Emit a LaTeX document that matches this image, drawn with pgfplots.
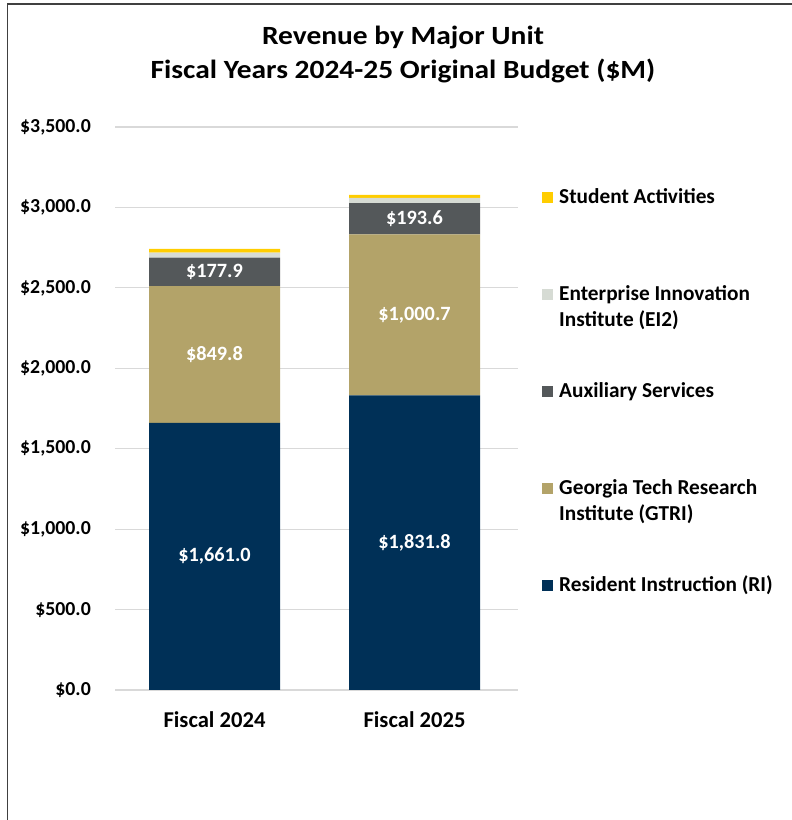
\documentclass[border=0pt]{standalone}
\usepackage{fontspec}
\setmainfont{Carlito}
\usepackage{pgfplots}
\pgfplotsset{compat=1.18}
\definecolor{cRI}{HTML}{003057}
\definecolor{cGT}{HTML}{B3A369}
\definecolor{cAX}{HTML}{54585A}
\definecolor{cEI}{HTML}{D6DBD4}
\definecolor{cSA}{HTML}{FFCD00}
\definecolor{cgrid}{HTML}{D9D9D9}
\pgfplotsset{commonaxis/.style={
  at={(115pt,130pt)}, anchor=south west,
  scale only axis, width=403pt, height=563pt,
  xmin=-0.4975, xmax=1.5175, ymin=0, ymax=3500}}
\begin{document}
\begin{tikzpicture}[x=1pt,y=1pt]
\path[use as bounding box] (0,0) rectangle (792,820);
\draw[line width=1.3pt, color=black!75] (7.5,0) -- (7.5,816) -- (792,816);
\node[align=center, xscale=1.12, font=\fontsize{26.3}{34.5}\selectfont\bfseries] at (403,765.5)
  {Revenue by Major Unit\\Fiscal Years 2024-25 Original Budget (\$M)};
\begin{axis}[
  commonaxis,
  ybar stacked, bar width=131pt,
  xtick={0,1}, xticklabels={Fiscal 2024, Fiscal 2025},
  ytick={0,500,1000,1500,2000,2500,3000,3500},
  yticklabels={{\$0.0},{\$500.0},{\$1,000.0},{\$1,500.0},{\$2,000.0},{\$2,500.0},{\$3,000.0},{\$3,500.0}},
  axis line style={draw=none},
  major tick length=0pt,
  ymajorgrids, grid style={color=cgrid, line width=1.2pt},
  yticklabel style={font=\fontsize{19.8}{22}\selectfont\bfseries, anchor=east, inner sep=0pt, xshift=-24pt},
  xticklabel style={font=\fontsize{22.6}{26}\selectfont\bfseries, anchor=north, inner sep=0pt, yshift=-21pt},
  reverse legend,
  legend image code/.code={\fill[#1,draw=none] (0pt,0pt) rectangle (11pt,11.5pt);},
  legend style={draw=none, fill=none, at={(1.0596,0.892)}, anchor=north west,
    inner sep=0pt, row sep=42pt, column sep=6pt,
    font=\fontsize{21.3}{26.7}\selectfont\bfseries,
    cells={anchor=base west},
    nodes={inner sep=0pt, anchor=base west, text height=15pt, text depth=40pt}},
]
\addplot[fill=cRI, draw=none] coordinates {(0,1661.0) (1,1831.8)};
\addlegendentry{\parbox[t]{240pt}{Resident Instruction (RI)}}
\addplot[fill=cGT, draw=none] coordinates {(0,849.8) (1,1000.7)};
\addlegendentry{\parbox[t]{240pt}{Georgia Tech Research\\Institute (GTRI)}}
\addplot[fill=cAX, draw=none] coordinates {(0,177.9) (1,193.6)};
\addlegendentry{\parbox[t]{240pt}{Auxiliary Services}}
\addplot[fill=cEI, draw=none] coordinates {(0,30) (1,33)};
\addlegendentry{\parbox[t]{240pt}{Enterprise Innovation\\Institute (EI2)}}
\addplot[fill=cSA, draw=none] coordinates {(0,23) (1,19)};
\addlegendentry{\parbox[t]{240pt}{Student Activities}}
\end{axis}
% data labels at the middle of each segment
\begin{axis}[
  commonaxis, hide axis,
  nodes near coords, point meta=explicit symbolic,
  every node near coord/.append style={anchor=center, text=white, inner sep=0pt,
    font=\fontsize{20.3}{22}\selectfont\bfseries},
]
\addplot[draw=none, mark=none] coordinates {
  (0,830.5) [\$1,661.0] (1,915.9) [\$1,831.8]
  (0,2085.9) [\$849.8] (1,2332.15) [\$1,000.7]
  (0,2599.75) [\$177.9] (1,2929.3) [\$193.6]};
\end{axis}
\end{tikzpicture}
\end{document}
